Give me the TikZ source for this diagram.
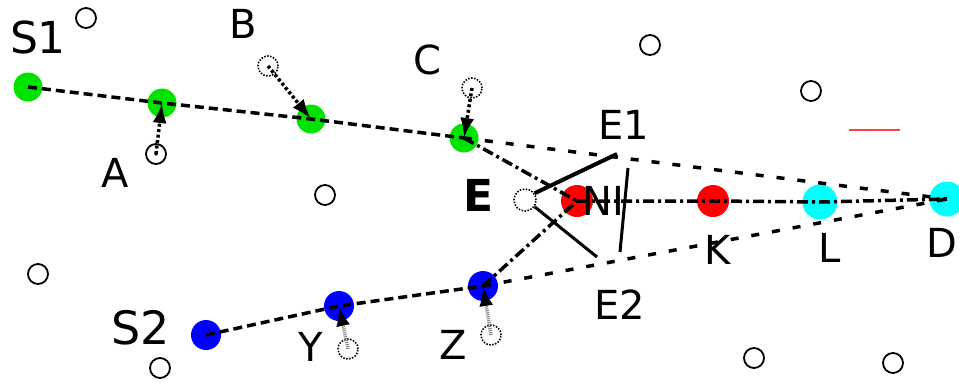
\documentclass[tikz,border=0pt]{standalone}
\usepackage{fontspec}
\setmainfont{DejaVu Sans}
\usetikzlibrary{arrows.meta}
\definecolor{sgreen}{RGB}{0,226,0}
\definecolor{scyan}{RGB}{0,255,255}

\begin{document}
\begin{tikzpicture}[x=1pt,y=-1pt,>={Latex[length=20pt,width=14pt]},
	ball/.style={circle,inner sep=0pt,minimum size=#1},
	gnode/.style={ball=29pt,fill=sgreen},
	bnode/.style={ball=30pt,fill=blue},
	rnode/.style={ball=32pt,fill=red},
	cnode/.style={ball=35pt,fill=scyan},
	free/.style={ball=20pt,draw,line width=1.8pt},
	ghost/.style={ball=20pt,draw,line width=1.6pt,dash pattern=on 1.5pt off 1.5pt},
	lab/.style={font=\fontsize{40}{40}\selectfont,inner sep=0pt},
	biglab/.style={font=\fontsize{44}{44}\selectfont,inner sep=0pt},
	route/.style={line width=3.5pt,dash pattern=on 9pt off 5pt},
	far/.style={line width=3.5pt,dash pattern=on 8pt off 13pt},
	link/.style={line width=3.5pt,dash pattern=on 11pt off 4pt on 3pt off 4pt},
	move/.style={->,line width=3.5pt,dash pattern=on 3pt off 2.5pt},
	wall/.style={line width=3pt}]
	\useasboundingbox (0,0) rectangle (959,383);

	% empty cells
	\node[free] (o1) at (86,18) {};
	\node[free] (o2) at (325,195) {};
	\node[free] (o3) at (38,274) {};
	\node[free] (o4) at (160,368) {};
	\node[free] (o5) at (650,45) {};
	\node[free] (o6) at (811,91) {};
	\node[free] (o7) at (754,358) {};
	\node[free] (o8) at (893,363) {};

	% upper chain
	\node[gnode] (S1) at (28,87) {};
	\node[gnode] (A) at (162,103) {};
	\node[gnode] (B) at (311,119) {};
	\node[gnode] (C) at (464,138) {};
	\node[free] (a0) at (156,154) {};
	\fill (a0) circle (1.8pt);
	\node[ghost] (b0) at (268,66) {};
	\node[ghost] (c0) at (472,88) {};

	% lower chain
	\node[bnode] (S2) at (206,335) {};
	\node[bnode] (Y) at (339,306) {};
	\node[bnode] (Z) at (483,286) {};
	\node[ghost] (y0) at (348,349) {};
	\node[ghost] (z0) at (491,335) {};

	% middle
	\node[ghost,ball=22pt] (E) at (525,200) {};
	\node[rnode] (NI) at (577,201) {};
	\node[rnode] (K) at (713,201) {};
	\node[cnode] (L) at (820,202) {};
	\node[cnode] (D) at (947,199) {};

	\coordinate (e1) at (617,154);
	\coordinate (e2) at (597,257);
	\coordinate (w1) at (628,168);
	\coordinate (w2) at (620,252);
	\coordinate (r1) at (849,130);
	\coordinate (r2) at (900,130);

	\draw[route] (S1.center) -- (A.center) -- (B.center) -- (C.center);
	\draw[far] (C.center) -- (D.center);
	\draw[route] (S2.center) -- (Y.center) -- (Z.center);
	\draw[far] (Z.center) -- (D.center);
	\draw[link] (C.center) -- (NI.center);
	\draw[link] (Z.center) -- (NI.center);
	\draw[link] (NI.center) -- (K.center) -- (L.center) -- (D.center);

	\draw[move] (a0.center) -- (A.center);
	\draw[move] (b0.center) -- (B.center);
	\draw[move] (c0.center) -- (C.center);
	\draw[move,draw=gray,dash pattern=on 1pt off 1pt,-{Latex[length=20pt,width=14pt,black]}] (y0.center) -- (Y.center);
	\draw[move,draw=gray,dash pattern=on 1pt off 1pt,-{Latex[length=20pt,width=14pt,black]}] (z0.center) -- (Z.center);

	\draw[wall,line width=4pt] (E.35) -- (e1);
	\draw[wall] (E.-35) -- (e2);
	\draw[wall] (w1) -- (w2);
	\draw[red!75,line width=1.5pt] (r1) -- (r2);

	% labels
	\node[biglab] (lS1) at (38,37) {S1};
	\node[biglab,font=\fontsize{46}{46}\selectfont] (lS2) at (141,328) {S2};
	\node[lab] (lA) at (115,173) {A};
	\node[lab] (lB) at (243,24) {B};
	\node[lab] (lC) at (427,60) {C};
	\node[lab,font=\fontsize{44}{44}\selectfont\bfseries] (lE) at (479,195) {E};
	\node[lab] (lNI) at (603,201) {NI};
	\node[lab] (lE1) at (624,125) {E1};
	\node[lab] (lE2) at (620,305) {E2};
	\node[lab] (lK) at (718,250) {K};
	\node[lab] (lL) at (830,248) {L};
	\node[lab] (lD) at (942,243) {D};
	\node[lab] (lY) at (311,347) {Y};
	\node[lab] (lZ) at (453,345) {Z};
\end{tikzpicture}
\end{document}
